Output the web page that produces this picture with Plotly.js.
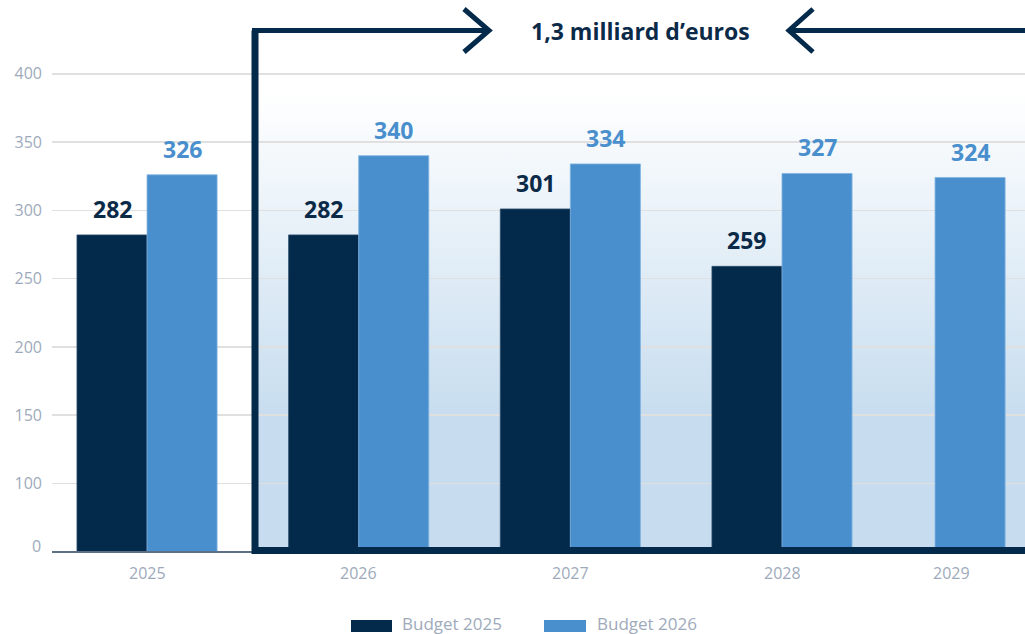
<!DOCTYPE html>
<html>
<head>
<meta charset="utf-8">
<script src="https://cdn.plot.ly/plotly-3.0.1.min.js"></script>
<style>html,body{margin:0;padding:0;background:#fff;}#chart{width:1025px;height:634px;}</style>
</head>
<body>
<div id="chart"></div>
<script>
// ---- data ----
const categories = ['2025', '2026', '2027', '2028', '2029'];
const budget2025 = [282, 282, 301, 259, null];
const budget2026 = [326, 340, 334, 327, 324];
const seriesNames = ['Budget 2025', 'Budget 2026'];
const yTickVals = [100, 150, 200, 250, 300, 350, 400];
const yTickText = ['100', '150', '200', '250', '300', '350', '400'];
const zeroLabel = '0';
const frameLabel = '1,3 milliard d\u2019euros';

// ---- layout geometry / style ----
const W = 1025, H = 634, ML = 52, MR = 0, MT = 0, MB = 83;
const PW = W - ML - MR, PH = H - MT - MB;
const px = x => (x - ML) / PW;
const py = y => (PH - y) / PH;
const FONT = 'Open Sans, sans-serif';
const DARK = '#032a4a', LIGHT = '#4a8fcd', NAVY = '#0a2a48', GREY = '#9eaabb';
const BW = 0.331;
const darkOffsets = [-BW, -BW, -BW, -BW, -BW];
const lightOffsets = [0, 0, 0, 0, -0.277];
const catLabelOffsets = [0, 0, 0, 0, -0.197];

const traces = [
  {type: 'bar', name: seriesNames[0], x: categories, y: budget2025,
   width: BW, offset: darkOffsets, showlegend: false, hoverinfo: 'skip',
   marker: {color: DARK, line: {color: '#2c4c6c', width: 0.8}}},
  {type: 'bar', name: seriesNames[1], x: categories, y: budget2026,
   width: BW, offset: lightOffsets, showlegend: false, hoverinfo: 'skip',
   marker: {color: LIGHT, line: {color: '#7fb2e0', width: 0.8}}}
];

const annotations = [];
// value labels
[[budget2025, darkOffsets, NAVY], [budget2026, lightOffsets, LIGHT]].forEach(([vals, offs, col]) => {
  vals.forEach((v, i) => {
    if (v === null) return;
    annotations.push({x: i + offs[i] + BW / 2, xref: 'x', y: v, yref: 'y', yanchor: 'middle',
      yshift: 26, text: String(v), showarrow: false,
      font: {family: FONT, size: 23, color: col, weight: 700}});
  });
});
// category labels
categories.forEach((c, i) => {
  annotations.push({x: i + catLabelOffsets[i], xref: 'x', y: 0, yref: 'paper', yanchor: 'middle',
    yshift: -22, text: c, showarrow: false, font: {family: FONT, size: 16, color: GREY}});
});
// zero label
annotations.push({x: 0, xref: 'paper', xanchor: 'right', xshift: -9, y: py(546), yref: 'paper',
  yanchor: 'middle', text: zeroLabel, showarrow: false, font: {family: FONT, size: 16, color: GREY}});
// frame label
annotations.push({x: px(640), xref: 'paper', y: py(31), yref: 'paper', yanchor: 'middle', xanchor: 'center',
  text: frameLabel, showarrow: false, font: {family: FONT, size: 23, color: NAVY, weight: 700}});
// manual legend
const legendItems = [
  {name: seriesNames[0], color: DARK, sx0: 351, sx1: 392, tx: 400},
  {name: seriesNames[1], color: LIGHT, sx0: 544, sx1: 586, tx: 595}
];
const shapes = [];
legendItems.forEach(it => {
  shapes.push({type: 'rect', xref: 'paper', yref: 'paper', x0: px(it.sx0), x1: px(it.sx1),
    y0: py(632), y1: py(620), fillcolor: it.color, line: {width: 0}});
  annotations.push({x: px(it.tx), xref: 'paper', xanchor: 'left', y: py(623), yref: 'paper', yanchor: 'middle',
    text: it.name, showarrow: false, font: {family: FONT, size: 17, color: GREY}});
});
// frame
const P = (x, y) => px(x) + ',' + py(y);
shapes.push({type: 'path', xref: 'paper', yref: 'paper', layer: 'above',
  path: 'M' + P(1040, 550.5) + 'L' + P(255, 550.5) + 'L' + P(255, 30.5),
  line: {color: DARK, width: 7}});
shapes.push({type: 'path', xref: 'paper', yref: 'paper', layer: 'above',
  path: 'M' + P(252, 30.5) + 'L' + P(489, 30.5), line: {color: DARK, width: 5}});
shapes.push({type: 'path', xref: 'paper', yref: 'paper', layer: 'above',
  path: 'M' + P(464, 9) + 'L' + P(489, 30.5) + 'L' + P(464, 52), line: {color: DARK, width: 5}});
shapes.push({type: 'path', xref: 'paper', yref: 'paper', layer: 'above',
  path: 'M' + P(789, 30.5) + 'L' + P(1040, 30.5), line: {color: DARK, width: 5}});
shapes.push({type: 'path', xref: 'paper', yref: 'paper', layer: 'above',
  path: 'M' + P(813, 9) + 'L' + P(789, 30.5) + 'L' + P(813, 52), line: {color: DARK, width: 5}});

// gradient background inside frame
const svg = "<svg xmlns='http://www.w3.org/2000/svg' width='100' height='100' viewBox='0 0 100 100' preserveAspectRatio='none'>" +
  "<defs><linearGradient id='g' x1='0' y1='0' x2='0' y2='1'>" +
  "<stop offset='0.12' stop-color='#ffffff'/><stop offset='0.74' stop-color='#c7ddef'/><stop offset='1' stop-color='#c7ddef'/>" +
  "</linearGradient></defs><rect x='0' y='0' width='100' height='100' fill='url(#g)'/></svg>";
const images = [{source: 'data:image/svg+xml;charset=utf-8,' + encodeURIComponent(svg),
  xref: 'paper', yref: 'paper', x: px(255), y: py(30), xanchor: 'left', yanchor: 'top',
  sizex: 1.05 - px(255), sizey: py(30) - py(551), sizing: 'stretch', layer: 'below'}];

const layout = {
  width: W, height: H,
  margin: {l: ML, r: MR, t: MT, b: MB, pad: 0},
  paper_bgcolor: '#ffffff', plot_bgcolor: 'rgba(0,0,0,0)',
  barmode: 'overlay',
  showlegend: false,
  font: {family: FONT, color: GREY},
  xaxis: {type: 'category', range: [-0.449, 4.148], showticklabels: false, ticks: '',
    showgrid: false, zeroline: false, showline: true, linecolor: '#5d6f87', linewidth: 2, fixedrange: true},
  yaxis: {range: [50.6, 454], tickmode: 'array', tickvals: yTickVals, ticktext: yTickText,
    ticks: '', ticklabelstandoff: 9, showgrid: true, gridcolor: '#e0e0e0', gridwidth: 1.5,
    zeroline: false, showline: false, tickfont: {family: FONT, size: 16, color: GREY}, fixedrange: true},
  annotations: annotations,
  shapes: shapes,
  images: images
};

Plotly.newPlot('chart', traces, layout, {displayModeBar: false, staticPlot: true});
</script>
</body>
</html>
